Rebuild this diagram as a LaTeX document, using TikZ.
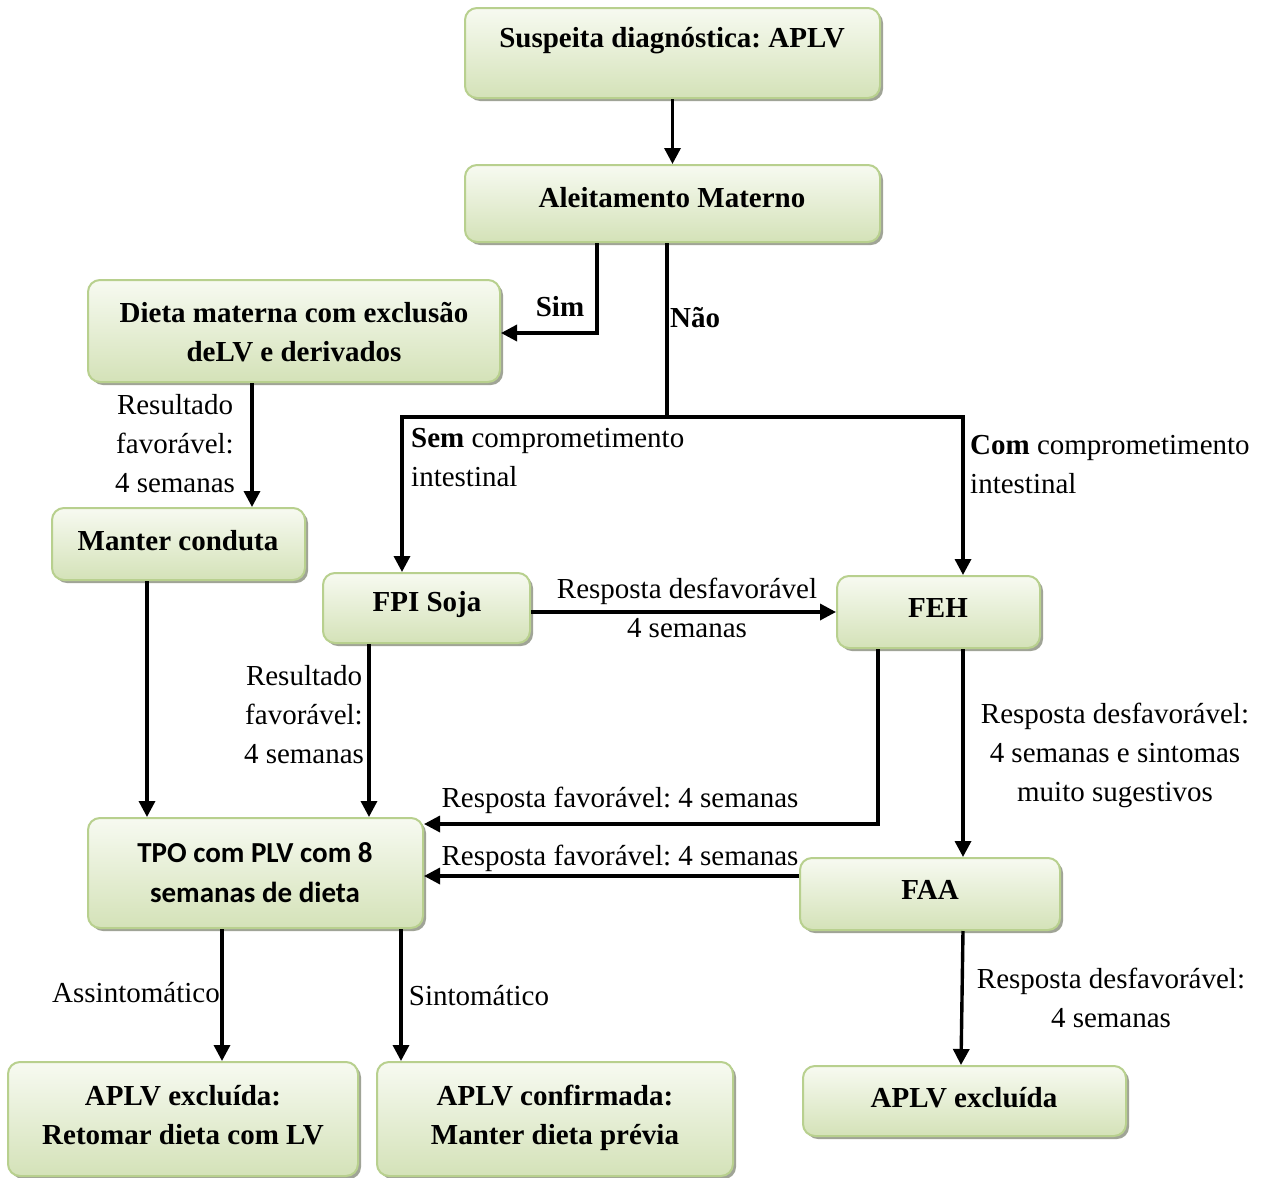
\documentclass[tikz,border=0pt]{standalone}
\usepackage{fontspec}
\setmainfont{Liberation Serif}
\newfontfamily\calibri{Carlito}
\usetikzlibrary{arrows.meta,shadows}
\definecolor{boxborder}{RGB}{184,208,142}
\definecolor{boxtop}{RGB}{247,250,241}
\definecolor{boxbot}{RGB}{212,226,184}
\definecolor{boxshadow}{RGB}{150,155,140}
\tikzset{
  box/.style={rounded corners=12pt, draw=boxborder, line width=2pt,
    top color=boxtop, bottom color=boxbot, inner sep=0pt,
    drop shadow={shadow xshift=3pt, shadow yshift=-3pt, fill=boxshadow, opacity=0.9}},
  btxt/.style={font=\fontsize{29}{39}\selectfont\bfseries, align=center, inner sep=0pt},
  lbl/.style={font=\fontsize{29}{39}\selectfont, align=center, inner sep=0pt},
  ln/.style={line width=3.4pt, line join=miter},
  arr/.style={ln, -{Triangle[length=16pt,width=16pt]}}
}
\begin{document}
\frenchspacing
\begin{tikzpicture}[x=1pt,y=-1pt]
\useasboundingbox[fill=white] (0,0) rectangle (1264,1178);
% boxes
\node[box, minimum width=415pt, minimum height=90pt] (b1) at (672.5,53) {};
\node[box, minimum width=415pt, minimum height=77pt] (b2) at (672.5,203.5) {};
\node[box, minimum width=412pt, minimum height=102pt] (b3) at (294,331) {};
\node[box, minimum width=253pt, minimum height=72pt] (b4) at (178.5,544) {};
\node[box, minimum width=207pt, minimum height=70pt] (b5) at (426.5,608) {};
\node[box, minimum width=203pt, minimum height=72pt] (b6) at (938.5,612) {};
\node[box, minimum width=335pt, minimum height=110pt] (b7) at (255.5,873) {};
\node[box, minimum width=260pt, minimum height=72pt] (b8) at (930,894) {};
\node[box, minimum width=350pt, minimum height=114pt] (b9) at (183,1119) {};
\node[box, minimum width=356pt, minimum height=114pt] (b10) at (555,1119) {};
\node[box, minimum width=323pt, minimum height=70pt] (b11) at (964.5,1101) {};
% box texts
\node[btxt] (t1) at (672,41) {Suspeita diagnóstica: APLV};
\node[btxt] (t2) at (672,198) {Aleitamento Materno};
\node[btxt] (t3) at (294,332) {Dieta materna com exclusão\\deLV e derivados};
\node[btxt] (t4) at (178,541) {Manter conduta};
\node[btxt] (t5) at (427,605) {FPI Soja};
\node[btxt] (t6) at (938,608) {FEH};
\node[btxt, font=\fontsize{29}{40}\selectfont\calibri\bfseries] (t7) at (255,873) {TPO com PLV com 8\\semanas de dieta};
\node[btxt] (t8) at (930,890) {FAA};
\node[btxt] (t9) at (183,1115) {APLV excluída:\\Retomar dieta com LV};
\node[btxt] (t10) at (555,1117.5) {APLV confirmada:\\Manter dieta prévia};
\node[btxt] (t11) at (964,1098) {APLV excluída};
% junction
\coordinate (j) at (667,417);
\coordinate (jl) at (402,417);
\coordinate (jr) at (963,417);
% connectors
\draw[arr] (b1) -- (b2);
\draw[arr] (b2.south -| 597,0) |- (b3.east |- 0,333);
\draw[ln] (b2.south -| j) -- (j);
\draw[arr] (j) -| (jl |- b5.north);
\draw[arr] (j) -| (jr |- b6.north);
\draw[arr] (b3.south -| 252,0) -- (b4.north -| 252,0);
\draw[arr] (b4.south -| 147,0) -- (b7.north -| 147,0);
\draw[arr] (b5.south -| 369,0) -- (b7.north -| 369,0);
\draw[arr] (b5.east |- 0,612) -- (b6.west |- 0,612);
\draw[arr] (b6.south -| 878,0) |- (b7.east |- 0,824);
\draw[arr] (b6.south -| 963,0) -- (b8.north -| 963,0);
\draw[arr] (b8.west |- 0,876) -- (b7.east |- 0,876);
\draw[arr] (b8.south -| 963,0) -- (b11.north -| 961,0);
\draw[arr] (b7.south -| 222,0) -- (b9.north -| 222,0);
\draw[arr] (b7.south -| 401,0) -- (b10.north -| 401,0);
% labels
\node[lbl, font=\fontsize{29}{39}\selectfont\bfseries] (lsim) at (560,307) {Sim};
\node[lbl, font=\fontsize{29}{39}\selectfont\bfseries, anchor=west] (lnao) at (670,318) {Não};
\node[lbl, align=left, anchor=north west] (lsem) at (411,428) {\textbf{Sem} comprometimento\\intestinal};
\node[lbl, align=left, anchor=north west] (lcom) at (970,435) {\textbf{Com} comprometimento\\intestinal};
\node[lbl] (lres1) at (175,444) {Resultado\\favorável:\\4 semanas};
\node[lbl] (lres2) at (304,715) {Resultado\\favorável:\\4 semanas};
\node[lbl] (ldes1) at (687,608) {Resposta desfavorável\\4 semanas};
\node[lbl] (lfav1) at (620,800) {Resposta favorável: 4 semanas};
\node[lbl] (lfav2) at (620,858) {Resposta favorável: 4 semanas};
\node[lbl] (ldes2) at (1115,755) {Resposta desfavorável:\\4 semanas e sintomas\\muito sugestivos};
\node[lbl] (ldes3) at (1111,997.5) {Resposta desfavorável:\\4 semanas};
\node[lbl] (lass) at (136,993) {Assintomático};
\node[lbl] (lsin) at (479,996) {Sintomático};
\end{tikzpicture}
\end{document}
